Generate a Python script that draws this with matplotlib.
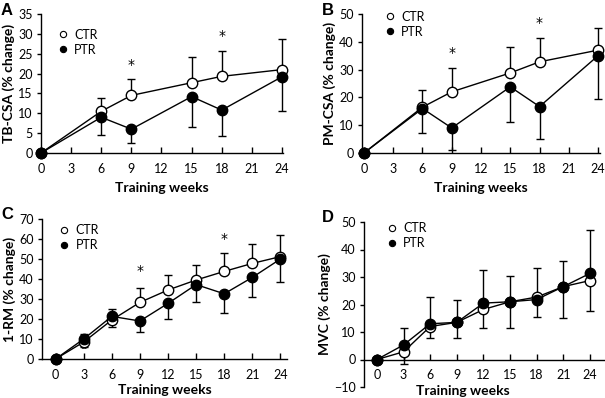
import matplotlib
matplotlib.use("Agg")
import matplotlib.pyplot as plt
from matplotlib.lines import Line2D

plt.rcParams['font.family'] = ['Lato', 'DejaVu Sans']

# ---------------- data ----------------
weeks_ab = [0, 6, 9, 15, 18, 24]
weeks_cd = [0, 3, 6, 9, 12, 15, 18, 21, 24]

# Panel A: TB-CSA
a_ctr = [0, 10.5, 14.5, 17.7, 19.3, 21.0]
a_ptr = [0, 9.0, 6.0, 14.2, 10.8, 19.2]
a_ctr_up = [0, 3.3, 4.1, 6.5, 6.5, 7.8]
a_ptr_dn = [0, 4.5, 3.6, 7.7, 6.5, 8.5]
a_star_x = [9, 18]
a_star_y = [22.2, 29.5]

# Panel B: PM-CSA
b_ctr = [0, 16.5, 22.0, 28.8, 32.8, 37.0]
b_ptr = [0, 16.0, 9.0, 23.8, 16.7, 35.0]
b_ctr_up = [0, 6.0, 8.7, 9.5, 8.4, 8.0]
b_ptr_dn = [0, 8.8, 8.1, 12.8, 11.7, 15.5]
b_star_x = [9, 18]
b_star_y = [35.9, 46.9]

# Panel C: 1-RM
c_ctr = [0, 8.5, 19.5, 28.3, 34.5, 39.5, 43.8, 47.8, 51.2]
c_ptr = [0, 10.0, 21.3, 19.0, 27.8, 37.2, 32.6, 40.8, 50.0]
c_ctr_up = [0, 0, 0, 7.2, 7.5, 7.3, 9.0, 9.8, 10.8]
c_ctr_dn = [0, 2.5, 3.5, 0, 0, 0, 0, 0, 0]
c_ptr_up = [0, 2.5, 3.7, 0, 0, 0, 0, 0, 0]
c_ptr_dn = [0, 0, 0, 5.5, 7.8, 8.7, 9.6, 10.0, 11.4]
c_star_x = [9, 18]
c_star_y = [44.0, 60.0]

# Panel D: MVC
d_ctr = [0, 2.8, 12.0, 13.5, 18.2, 21.0, 22.7, 26.5, 28.7]
d_ptr = [0, 5.3, 13.0, 13.5, 20.5, 21.0, 21.8, 26.5, 31.3]
d_ctr_up = [0, 0, 0, 0, 0, 0, 10.5, 0, 0]
d_ctr_dn = [0, 4.3, 4.0, 0, 6.9, 0, 0, 0, 11.1]
d_ptr_up = [0, 6.2, 9.8, 8.2, 12.0, 9.3, 0, 9.3, 15.9]
d_ptr_dn = [0, 0, 0, 5.8, 0, 9.5, 6.5, 11.3, 0]

xticks = [0, 3, 6, 9, 12, 15, 18, 21, 24]

W, H = 605, 398
fig = plt.figure(figsize=(W / 100, H / 100), dpi=100)


def px_axes(l, t, r, b):
    return fig.add_axes([l / W, 1 - b / H, (r - l) / W, (b - t) / H])


def style(ax, ylabel, ylim, yticks, xlim, letter, letter_xy, xlabelpad=5):
    ax.set_xlim(*xlim)
    ax.set_ylim(*ylim)
    ax.set_yticks(yticks)
    ax.set_xticks(xticks)
    for s in ['top', 'right']:
        ax.spines[s].set_visible(False)
    ax.spines['left'].set_linewidth(1.0)
    ax.spines['bottom'].set_linewidth(1.0)
    ax.tick_params(axis='y', direction='out', length=3, width=1, labelsize=9, pad=3)
    ax.tick_params(axis='x', direction='in', length=4, width=1, labelsize=9, pad=7)
    ax.set_ylabel(ylabel, fontsize=10, fontweight='bold', labelpad=2)
    ax.set_xlabel('Training weeks', fontsize=10, fontweight='bold', labelpad=xlabelpad)
    fig.text(letter_xy[0] / W, 1 - letter_xy[1] / H, letter, fontsize=12,
             fontweight='bold', family='Liberation Sans', ha='left', va='top')


def draw(ax, x, ctr, ptr, ctr_err, ptr_err):
    ax.errorbar(x, ctr, yerr=ctr_err, color='black', lw=1, marker='o', ms=7.5,
                mfc='white', mec='black', mew=1, capsize=3, elinewidth=1,
                clip_on=False, zorder=3)
    ax.errorbar(x, ptr, yerr=ptr_err, color='black', lw=1, marker='o', ms=7.5,
                mfc='black', mec='black', mew=1, capsize=3, elinewidth=1,
                clip_on=False, zorder=4)


def legend(ax, anchor):
    handles = [Line2D([], [], ls='none', marker='o', ms=4.5, mfc='white', mec='black', mew=0.8),
               Line2D([], [], ls='none', marker='o', ms=4.5, mfc='black', mec='black', mew=0.8)]
    ax.legend(handles, ['CTR', 'PTR'], loc='upper left', bbox_to_anchor=anchor,
              frameon=False, fontsize=9, handlelength=0.8, handletextpad=0.5,
              labelspacing=0.25, borderaxespad=0)


def stars(ax, xs, ys):
    for xv, yv in zip(xs, ys):
        ax.text(xv, yv, '*', ha='center', va='center', fontsize=10,
                family='DejaVu Sans')


# Panel A
axA = px_axes(41, 14, 283, 153)
zeros6 = [0] * 6
draw(axA, weeks_ab, a_ctr, a_ptr, [zeros6, a_ctr_up], [a_ptr_dn, zeros6])
style(axA, 'TB-CSA (% change)', (0, 35), range(0, 36, 5), (0, 24.1), 'A', (1, 3))
legend(axA, (0.05, 0.93))
stars(axA, a_star_x, a_star_y)

# Panel B
axB = px_axes(362, 14, 600, 153)
draw(axB, weeks_ab, b_ctr, b_ptr, [zeros6, b_ctr_up], [b_ptr_dn, zeros6])
style(axB, 'PM-CSA (% change)', (0, 50), range(0, 51, 10), (-0.2, 24.2), 'B', (322, 3))
legend(axB, (0.075, 1.06))
stars(axB, b_star_x, b_star_y)

# Panel C
axC = px_axes(42, 219, 287, 359)
draw(axC, weeks_cd, c_ctr, c_ptr, [c_ctr_dn, c_ctr_up], [c_ptr_dn, c_ptr_up])
style(axC, '1-RM (% change)', (0, 70), range(0, 71, 10), (-1.45, 24.7), 'C', (1, 207),
      xlabelpad=2)
legend(axC, (0.05, 1.0))
stars(axC, c_star_x, c_star_y)
axC.text(3, 6.3, 'α', ha='center', va='center', fontsize=7)

# Panel D
axD = px_axes(364, 222, 605, 387)
draw(axD, weeks_cd, d_ctr, d_ptr, [d_ctr_dn, d_ctr_up], [d_ptr_dn, d_ptr_up])
style(axD, 'MVC (% change)', (-10, 50), range(-10, 51, 10), (-1.46, 25.7), 'D', (322, 210))
axD.spines['bottom'].set_position(('data', 0))
axD.set_xlabel('')
fig.text(463 / W, 0.003, 'Training weeks', fontsize=10, fontweight='bold',
         ha='center', va='bottom')
legend(axD, (0.075, 1.03))

fig.savefig('out.png', dpi=100)
